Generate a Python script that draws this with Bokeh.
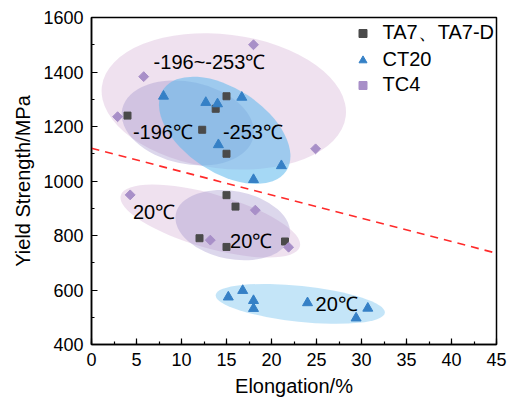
import math
from bokeh.plotting import figure
from bokeh.models import Range1d, SingleIntervalTicker, Legend, LegendItem
from bokeh.core.properties import value
from bokeh.embed import file_html
from bokeh.resources import INLINE

# ---- data ----
ta7_x = [4.0, 12.3, 15.0, 13.8, 15.0, 15.0, 16.0, 12.0, 15.0, 21.5]
ta7_y = [1240, 1188, 1311, 1265, 1100, 948, 906, 790, 758, 778]

ct20_x = [8.0, 12.7, 14.0, 16.7, 14.1, 21.1, 18.0, 15.2, 16.8, 18.0, 18.0, 24.0, 29.4, 30.7]
ct20_y = [1311, 1288, 1283, 1307, 1133, 1056, 1005, 574, 598, 561, 532, 553, 497, 533]

tc4_x = [18.0, 5.8, 2.9, 24.9, 4.3, 18.2, 13.2, 21.9]
tc4_y = [1500, 1383, 1236, 1118, 949, 893, 783, 757]

series_names = ["TA7、TA7-D", "CT20", "TC4"]

trend_x = [0, 45]
trend_y = [1120, 735]

region_labels = ["-196~-253℃", "-196℃", "-253℃", "20℃", "20℃", "20℃"]
label_x = [6.9, 4.6, 14.6, 4.6, 15.4, 24.9]
label_y = [1438, 1179, 1178, 885, 778, 547]

# ellipse regions: centre, width (x units), height (y units), tilt (deg)
ell_x = [14.7, 10.7, 14.8, 13.2, 15.7, 23.2]
ell_y = [1292, 1213, 1186, 853, 838, 549]
ell_w = [27.3, 14.9, 16.4, 20.7, 12.9, 18.9]
ell_h = [492, 301, 308, 198, 250, 132]
ell_a = [-7, -12, -33.5, -16, -11, -6]
ell_c = ["#cda5cf", "#9c8cc8", "#5bb8ec", "#cda5cf", "#9c8cc8", "#5bb8ec"]
ell_alpha = [0.33, 0.35, 0.55, 0.33, 0.35, 0.36]

FONT = "Liberation Sans"

p = figure(width=513, height=402, output_backend="svg", toolbar_location=None,
           x_range=Range1d(0, 45), y_range=Range1d(400, 1600),
           min_border_left=91, min_border_right=17, min_border_top=17, min_border_bottom=58)

p.xgrid.visible = False
p.ygrid.visible = False
p.outline_line_color = "black"
p.outline_line_width = 1.5
p.outline_line_alpha = 1

for i in range(len(ell_x)):
    p.ellipse(x=[ell_x[i]], y=[ell_y[i]], width=[ell_w[i]], height=[ell_h[i]],
              angle=[ell_a[i]], angle_units="deg",
              fill_color=ell_c[i], fill_alpha=ell_alpha[i], line_color=None)

p.line(trend_x, trend_y, line_color="#ff2a2a", line_width=1.6, line_dash="8 6")

r1 = p.scatter(ta7_x, ta7_y, marker="square", size=7, fill_color="#4a4a4a", line_color="#4a4a4a")
r2 = p.scatter(ct20_x, ct20_y, marker="triangle", size=10, fill_color="#3580c6", line_color="#3580c6")
r3 = p.scatter(tc4_x, tc4_y, marker="square", angle=math.pi / 4, size=7,
               fill_color="#a88fc8", line_color="#a88fc8")

p.text(x=label_x, y=label_y, text=region_labels, text_font=value(FONT),
       text_font_size="20px", text_baseline="middle", text_align="left", text_color="black")

for ax, iv in ((p.xaxis, 5), (p.yaxis, 200)):
    ax.ticker = SingleIntervalTicker(interval=iv, num_minor_ticks=2)
    ax.major_tick_in = 6
    ax.major_tick_out = 0
    ax.minor_tick_in = 3
    ax.minor_tick_out = 0
    ax.axis_line_color = "black"
    ax.axis_line_width = 1.5
    ax.major_tick_line_width = 1.2
    ax.minor_tick_line_width = 1.2
    ax.major_label_text_font = FONT
    ax.major_label_text_font_size = "18px"
    ax.major_label_text_color = "black"
    ax.axis_label_text_font = FONT
    ax.axis_label_text_font_size = "20px"
    ax.axis_label_text_font_style = "normal"
    ax.axis_label_text_color = "black"
    ax.major_label_standoff = 8

p.xaxis.axis_label = "Elongation/%"
p.yaxis.axis_label = "Yield Strength/MPa"
p.xaxis.axis_label_standoff = 6
p.yaxis.axis_label_standoff = 6

legend = Legend(items=[LegendItem(label=series_names[0], renderers=[r1]),
                       LegendItem(label=series_names[1], renderers=[r2]),
                       LegendItem(label=series_names[2], renderers=[r3])],
                location="top_right", margin=2, padding=2, spacing=2,
                glyph_width=20, glyph_height=22, label_height=22, label_standoff=10,
                border_line_color=None, background_fill_alpha=0,
                label_text_font=FONT, label_text_font_size="20px", label_text_color="black")
p.add_layout(legend)

open("out.html", "w").write(file_html(p, INLINE))
